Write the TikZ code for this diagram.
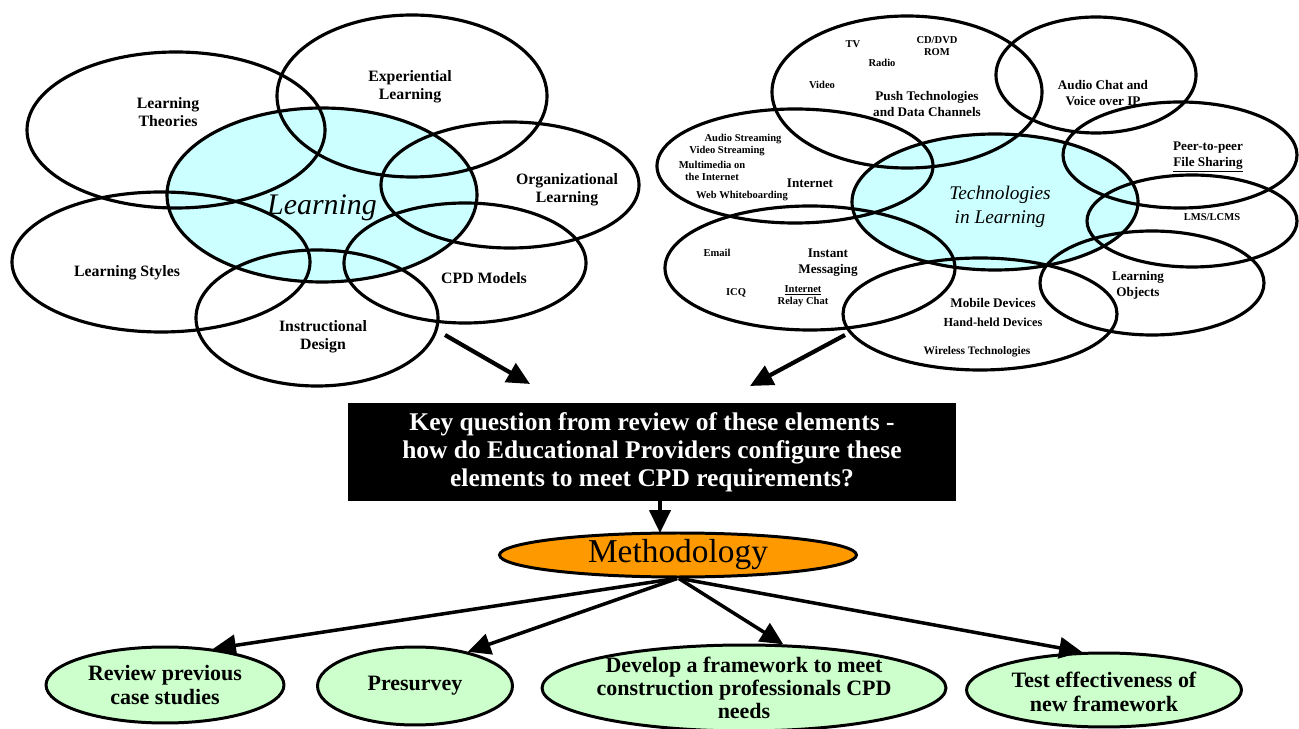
\documentclass[tikz,border=0pt]{standalone}
\usepackage{fontspec}
\setmainfont{Liberation Serif}
\usetikzlibrary{shapes.geometric,arrows.meta}
\definecolor{paleblue}{HTML}{CCFFFF}
\definecolor{methorange}{HTML}{FF9900}
\definecolor{palegreen}{HTML}{CCFFCC}

\begin{document}
\begin{tikzpicture}[x=0.02cm,y=-0.02cm,
  ring/.style={line width=1.8pt},
  lab/.style={font=\bfseries\fontsize{9}{10.5}\selectfont,align=center,inner sep=0pt},
  mid/.style={font=\bfseries\fontsize{7.5}{9}\selectfont,align=center,inner sep=0pt},
  small/.style={font=\bfseries\fontsize{6}{7}\selectfont,align=center,inner sep=0pt},
  bigarrow/.style={-{Triangle[length=13pt,width=12pt]},line width=2.4pt},
  outcome/.style={ellipse,draw,line width=1.7pt,fill=palegreen,inner sep=0pt}]
\useasboundingbox (0,0) rectangle (1299,729);

% learning cluster
\fill[paleblue] (322,195) ellipse [x radius=155,y radius=87];
\draw[ring] (176,130) ellipse [x radius=149,y radius=78];
\draw[ring] (412,96) ellipse [x radius=135,y radius=81];
\draw[ring] (322,195) ellipse [x radius=155,y radius=87];
\draw[ring] (510,185) ellipse [x radius=129,y radius=63];
\draw[ring] (161,262) ellipse [x radius=149,y radius=70];
\draw[ring] (465,263) ellipse [x radius=121,y radius=60];
\draw[ring] (317,318) ellipse [x radius=121,y radius=68];

\node[lab] (theories) at (168,112) {Learning\\Theories};
\node[lab] (experiential) at (410,87) {Experiential\\Learning};
\node[font=\itshape\fontsize{17}{19}\selectfont] (learning) at (322,208) {Learning};
\node[lab] (organizational) at (567,190) {Organizational\\Learning};
\node[lab] (styles) at (127,273) {Learning Styles};
\node[lab] (cpd) at (484,278) {CPD Models};
\node[lab] (instructional) at (323,337) {Instructional\\Design};

% technologies cluster
\fill[paleblue] (995,202) ellipse [x radius=143,y radius=68];
\draw[ring] (907,92) ellipse [x radius=135,y radius=76];
\draw[ring] (1096,75) ellipse [x radius=100,y radius=58];
\draw[ring] (1180,155) ellipse [x radius=117,y radius=53];
\draw[ring] (795,166) ellipse [x radius=138,y radius=57];
\draw[ring] (995,202) ellipse [x radius=143,y radius=68];
\draw[ring] (1192,221) ellipse [x radius=105,y radius=46];
\draw[ring] (810,268) ellipse [x radius=145,y radius=62];
\draw[ring] (1152,283) ellipse [x radius=112,y radius=52];
\draw[ring] (980,314) ellipse [x radius=137,y radius=56];

\node[small] (tv) at (853,44) {TV};
\node[small] (cdrom) at (937,46) {CD/DVD\\ROM};
\node[small] (radio) at (882,63) {Radio};
\node[small] (video) at (822,85) {Video};
\node[mid] (push) at (927,104) {Push Technologies\\and Data Channels};
\node[mid] (voip) at (1103,93) {Audio Chat and\\Voice over IP};
\node[mid] (p2p) at (1208,157) {Peer-to-peer\\\underline{File Sharing}};
\node[small] (astream) at (743,139) {Audio Streaming};
\node[small] (vstream) at (727,151) {Video Streaming};
\node[small] (multimedia) at (712,171) {Multimedia on\\the Internet};
\node[mid] (internet) at (810,183) {Internet};
\node[small] (whiteboard) at (742,196) {Web Whiteboarding};
\node[font=\itshape\fontsize{11}{13.5}\selectfont,align=center] (techlearn) at (1000,207) {Technologies\\in Learning};
\node[small] (lms) at (1212,217) {LMS/LCMS};
\node[small] (email) at (717,253) {Email};
\node[mid] (instant) at (828,263) {Instant\\Messaging};
\node[small] (icq) at (736,293) {ICQ};
\node[small] (irc) at (803,296) {\underline{Internet}\\Relay Chat};
\node[mid] (objects) at (1138,285) {Learning\\Objects};
\node[mid] (mobile) at (993,303) {Mobile Devices};
\node[small,font=\bfseries\fontsize{7}{8}\selectfont] (handheld) at (993,322) {Hand-held Devices};
\node[small,font=\bfseries\fontsize{6.5}{8}\selectfont] (wireless) at (977,352) {Wireless Technologies};

\coordinate (lfoot) at (445,335);
\coordinate (ldrop) at (530,384);
\coordinate (rfoot) at (845,335);
\coordinate (rdrop) at (750,386);
\draw[bigarrow] (lfoot) -- (ldrop);
\draw[bigarrow] (rfoot) -- (rdrop);

% key question and methodology
\node[fill=black,text=white,minimum width=12.18cm,minimum height=1.96cm,align=center,
  font=\bfseries\fontsize{14.5}{16}\selectfont] (key) at (652,452)
  {Key question from review of these elements -\\how do Educational Providers configure these\\elements to meet CPD requirements?};
\node[ellipse,draw,line width=1.7pt,fill=methorange,minimum width=7.14cm,minimum height=0.88cm,inner sep=0pt,
  font=\fontsize{19}{21}\selectfont] (meth) at (678,555) {Methodology};
\draw[bigarrow,line width=2pt] (key.south -| 660,0) -- (660,533);

\node[outcome,minimum width=4.76cm,minimum height=1.52cm,
  label={[lab,font=\bfseries\fontsize{12.5}{14}\selectfont]center:Review previous\\case studies}] (review) at (165,685) {};
\node[outcome,minimum width=3.9cm,minimum height=1.56cm,
  label={[lab,font=\bfseries\fontsize{12.5}{14}\selectfont]center:Presurvey}] (presurvey) at (415,686) {};
\node[outcome,minimum width=8.08cm,minimum height=1.72cm,
  label={[lab,font=\bfseries\fontsize{12.5}{13.2}\selectfont]center:Develop a framework to meet\\construction professionals CPD\\needs}] (develop) at (744,688) {};
\node[outcome,minimum width=5.5cm,minimum height=1.48cm,
  label={[lab,font=\bfseries\fontsize{12.5}{14}\selectfont,yshift=-0.04cm]center:Test effectiveness of\\new framework}] (test) at (1104,690) {};

\draw[bigarrow,line width=2pt] (meth.265) -- (review.37);
\draw[bigarrow,line width=2pt] (meth.268) -- (presurvey.33);
\draw[bigarrow,line width=2pt] (meth.272) -- (develop.48);
\draw[bigarrow,line width=2pt] (meth.275) -- (test.120);
\end{tikzpicture}
\end{document}
